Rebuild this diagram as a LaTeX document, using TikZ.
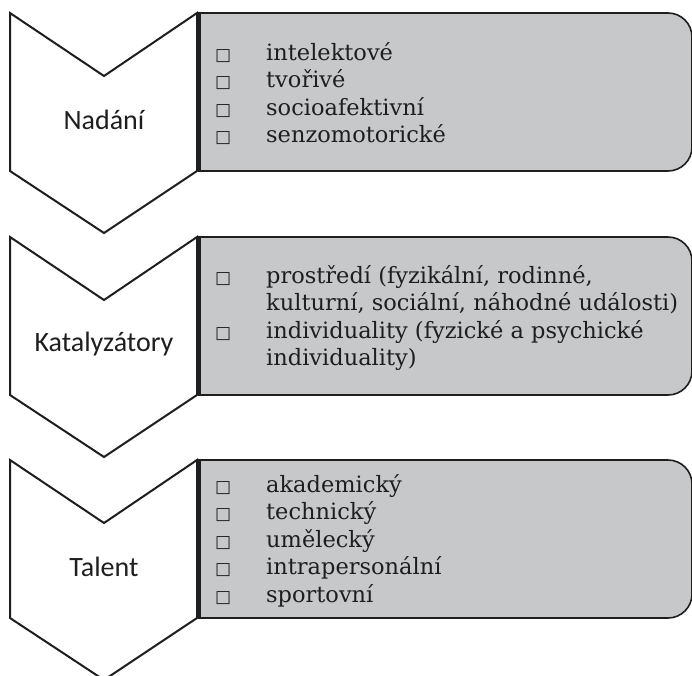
\documentclass[tikz,border=0pt]{standalone}
\usepackage{fontspec}
\setmainfont{DejaVu Serif}
\newfontfamily\labelfont{Carlito}
\newfontfamily\symfont{DejaVu Sans}
\definecolor{boxgrey}{RGB}{199,200,202}
\definecolor{edge}{RGB}{30,30,30}
\newcommand{\sqbullet}{{\symfont\fontsize{17}{17}\selectfont □}}
\begin{document}
\begin{tikzpicture}[x=1pt,y=-1pt,
  chevron/.style={draw=edge, line width=2pt, fill=white, line join=miter},
  listbox/.style={draw=edge, line width=1.6pt, fill=boxgrey},
  leftedge/.style={draw=edge, line width=3.5pt},
  stagelabel/.style={font=\labelfont\fontsize{28}{30}\selectfont, text=edge, inner sep=0pt},
  listtext/.style={font=\fontsize{22.5}{27.6}\selectfont, text=edge, anchor=base west, inner sep=0pt, align=left}]
\useasboundingbox (0,0) rectangle (692,675);

% one stage: chevron on the left, rounded grey box on the right
\foreach \t in {13,237,460} {
  \draw[chevron] (10,\t) -- (104,\t+63) -- (197,\t) -- (197,\t+158)
                 -- (104,\t+220) -- (10,\t+158) -- cycle;
  \draw[listbox] (199,\t) -- (668,\t) arc[start angle=-90,end angle=0,radius=24]
                 -- (692,\t+134) arc[start angle=0,end angle=90,radius=24]
                 -- (199,\t+158) -- cycle;
  \draw[leftedge] (199,\t) -- (199,\t+158);
}

% stage names
\node[stagelabel] (nadani) at (104,120) {Nadání};
\node[stagelabel] (katalyzatory) at (104,344) {Katalyzátory};
\node[stagelabel] (talent) at (104,567) {Talent};

% item lists
\node[listtext] (list1) at (215,60) {\begin{tabular}[t]{@{}p{51pt}@{}l@{}}
\sqbullet & intelektové\\
\sqbullet & tvořivé\\
\sqbullet & socioafektivní\\
\sqbullet & senzomotorické
\end{tabular}};
\node[listtext] (list2) at (215,283) {\begin{tabular}[t]{@{}p{51pt}@{}l@{}}
\sqbullet & prostředí (fyzikální, rodinné,\\
 & kulturní, sociální, náhodné události)\\
\sqbullet & individuality (fyzické a psychické\\
 & individuality)
\end{tabular}};
\node[listtext] (list3) at (215,492) {\begin{tabular}[t]{@{}p{51pt}@{}l@{}}
\sqbullet & akademický\\
\sqbullet & technický\\
\sqbullet & umělecký\\
\sqbullet & intrapersonální\\
\sqbullet & sportovní
\end{tabular}};
\end{tikzpicture}
\end{document}
